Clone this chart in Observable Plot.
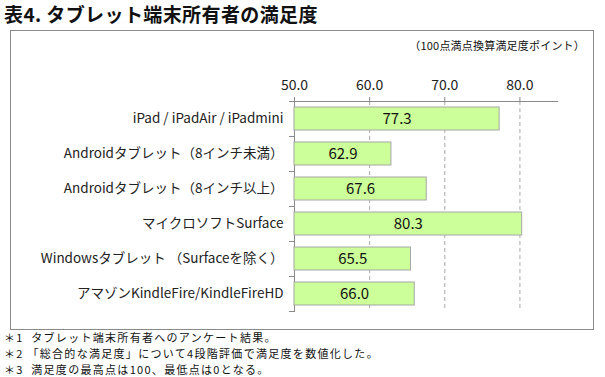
<!DOCTYPE html>
<html>
<head>
<meta charset="utf-8">
<script src="https://cdn.jsdelivr.net/npm/d3@7"></script>
<script src="https://cdn.jsdelivr.net/npm/@observablehq/plot@0.6"></script>
<style>
  html, body { margin: 0; padding: 0; background: #fff; }
  #page { position: relative; width: 605px; height: 377px; overflow: hidden; font-family: "Noto Sans CJK JP", sans-serif; color: #111; }
  #title { position: absolute; left: 4px; top: 2px; font-size: 19px; font-weight: 700; line-height: 24px; letter-spacing: 0.4px; }
  #box { position: absolute; left: 10px; top: 30px; width: 582px; height: 298px; border: 1px solid #8a8a8a; }
  #unit { position: absolute; right: 8px; top: 6px; font-size: 11px; line-height: 16px; color: #111; letter-spacing: 0.2px; }
  #chart { position: absolute; left: 0; top: 0; }
  #notes { position: absolute; left: 4px; top: 329px; font-size: 11px; line-height: 16px; letter-spacing: 1.3px; }
  #notes div { height: 16px; white-space: pre; }
</style>
</head>
<body>
<div id="page">
  <div id="title"></div>
  <div id="box"><div id="unit"></div><div id="chart"></div></div>
  <div id="notes"></div>
</div>
<script>
const titleText = "表4. タブレット端末所有者の満足度";
const unitText = "（100点満点換算満足度ポイント）";
const categories = [
  "iPad / iPadAir / iPadmini",
  "Androidタブレット（8インチ未満）",
  "Androidタブレット（8インチ以上）",
  "マイクロソフトSurface",
  "Windowsタブレット （Surfaceを除く）",
  "アマゾンKindleFire/KindleFireHD"
];
const values = [77.3, 62.9, 67.6, 80.3, 65.5, 66.0];
const xTicks = [50, 60, 70, 80];
const xDomain = [50, 85];
const notes = [
  "＊1  タブレット端末所有者へのアンケート結果。",
  "＊2 「総合的な満足度」について4段階評価で満足度を数値化した。",
  "＊3  満足度の最高点は100、最低点は0となる。"
];

document.getElementById("title").textContent = titleText;
document.getElementById("unit").textContent = unitText;
const notesEl = document.getElementById("notes");
for (const n of notes) {
  const d = document.createElement("div");
  d.textContent = n;
  notesEl.appendChild(d);
}

const data = categories.map((c, i) => ({category: c, value: values[i]}));
const bandStep = 210 / categories.length;

const chart = Plot.plot({
  width: 582,
  height: 298,
  marginLeft: 283,
  marginRight: 36,
  marginTop: 70,
  marginBottom: 18,
  style: {fontFamily: "'Noto Sans CJK JP', sans-serif", fontSize: "13px", color: "#222", background: "transparent", overflow: "visible"},
  x: {domain: xDomain, label: null},
  y: {domain: categories, label: null, paddingInner: 0.35, paddingOuter: 0.175},
  marks: [
    Plot.gridX({ticks: xTicks.slice(1), stroke: "#a8a8a8", strokeOpacity: 1, strokeDasharray: "4,3"}),
    Plot.frame({anchor: "top", stroke: "#8a8a8a"}),
    Plot.frame({anchor: "left", stroke: "#8a8a8a"}),
    Plot.axisX({anchor: "top", ticks: xTicks, tickFormat: d3.format(".1f"), tickSize: 5, tickPadding: 7, stroke: "#8a8a8a", fontSize: 14, fill: "#222"}),
    Plot.axisY({anchor: "left", ticks: categories, tickSize: 0, tickPadding: 11, fontSize: 13.5, fill: "#222"}),
    Plot.axisY({anchor: "left", ticks: categories, tickSize: 5, tickFormat: null, stroke: "#8a8a8a", dy: -bandStep / 2}),
    Plot.axisY({anchor: "left", ticks: categories.slice(-1), tickSize: 5, tickFormat: null, stroke: "#8a8a8a", dy: bandStep / 2}),
    Plot.barX(data, {y: "category", x1: () => xDomain[0], x2: "value", fill: "#ccff99", stroke: "#a6a6a6", strokeWidth: 1}),
    Plot.text(data, {y: "category", x: d => (xDomain[0] + d.value) / 2, text: d => d3.format(".1f")(d.value), fontSize: 15, fill: "#111"})
  ]
});
document.getElementById("chart").appendChild(chart);
</script>
</body>
</html>
